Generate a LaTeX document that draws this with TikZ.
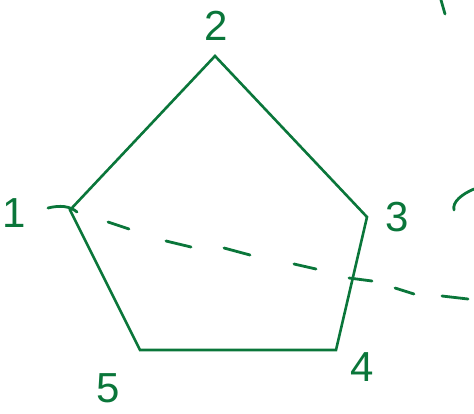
\documentclass[tikz,border=0pt]{standalone}
\usepackage{fontspec}
\setmainfont{Liberation Sans}
\definecolor{pen}{RGB}{10,118,58}
\begin{document}
\begin{tikzpicture}[x=1pt,y=-1pt,
  edge/.style={draw=pen,line width=2.6pt,line join=miter},
  dashpart/.style={draw=pen,line width=2.8pt,line cap=round},
  lbl/.style={text=pen,font=\fontsize{42}{42}\selectfont,inner sep=0pt}]
\useasboundingbox (0,0) rectangle (474,413);
\coordinate (v1) at (70,210);
\coordinate (v2) at (215,56);
\coordinate (v3) at (367,217);
\coordinate (v4) at (336,350);
\coordinate (v5) at (140,350);
\draw[edge] (v1) -- (v2) -- (v3) -- (v4) -- (v5) -- cycle;
% dashed line from vertex 1 (hand-drawn dashes)
\draw[dashpart] (48,208) .. controls (60,205) and (70,206) .. (77,212);
\draw[dashpart] (108,222) -- (129,229);
\draw[dashpart] (166,241) -- (191,247);
\draw[dashpart] (224,248) -- (250,255);
\draw[dashpart] (294,264) -- (316,269);
\draw[dashpart] (349,278) -- (372,281);
\draw[dashpart] (395,288) -- (414,294);
\draw[dashpart] (442,296) -- (468,299);
% partial strokes at the right edge
\draw[dashpart] (441,0) -- (445,14);
\draw[dashpart] (474,189) .. controls (462,194) and (452,202) .. (454,210);
% labels
\node[lbl] (l1) at (14,213) {1};
\node[lbl] (l2) at (216,26) {2};
\node[lbl] (l3) at (397,217) {3};
\node[lbl] (l4) at (362,367) {4};
\node[lbl] (l5) at (108,388) {5};
\end{tikzpicture}
\end{document}
